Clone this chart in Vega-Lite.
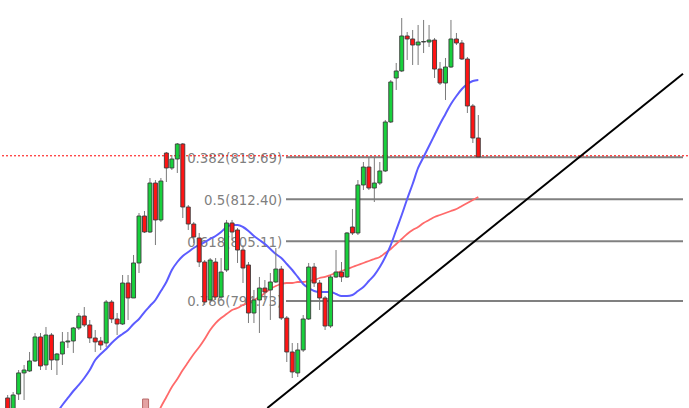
{
  "$schema": "https://vega.github.io/schema/vega-lite/v6.json",
  "width": 689,
  "height": 408,
  "padding": 0,
  "autosize": {"type": "fit", "contains": "padding"},
  "background": "white",
  "config": {"view": {"stroke": null}},
  "datasets": {
    "candles": [
      {"i":0,"o":777.88,"h":778.40,"l":775.45,"c":775.79},
      {"i":1,"o":775.79,"h":778.92,"l":775.45,"c":778.40},
      {"i":2,"o":778.57,"h":782.74,"l":777.53,"c":782.23},
      {"i":3,"o":782.23,"h":783.61,"l":777.53,"c":782.74},
      {"i":4,"o":782.57,"h":785.87,"l":782.40,"c":784.31},
      {"i":5,"o":784.31,"h":789.17,"l":784.13,"c":788.48},
      {"i":6,"o":788.48,"h":789.17,"l":782.74,"c":783.44},
      {"i":7,"o":783.61,"h":790.21,"l":782.74,"c":788.82},
      {"i":8,"o":788.82,"h":789.17,"l":782.74,"c":784.48},
      {"i":9,"o":784.48,"h":785.70,"l":781.87,"c":785.52},
      {"i":10,"o":785.52,"h":789.34,"l":783.61,"c":787.61},
      {"i":11,"o":787.61,"h":789.34,"l":786.56,"c":787.78},
      {"i":12,"o":787.78,"h":790.21,"l":785.70,"c":790.04},
      {"i":13,"o":790.04,"h":792.64,"l":789.69,"c":792.12},
      {"i":14,"o":792.12,"h":793.68,"l":790.21,"c":790.56},
      {"i":15,"o":790.56,"h":791.43,"l":787.43,"c":788.30},
      {"i":16,"o":788.30,"h":789.69,"l":785.87,"c":787.61},
      {"i":17,"o":787.78,"h":788.48,"l":786.22,"c":787.08},
      {"i":18,"o":787.43,"h":794.90,"l":786.74,"c":794.55},
      {"i":19,"o":794.55,"h":794.90,"l":790.90,"c":791.60},
      {"i":20,"o":791.60,"h":792.64,"l":788.82,"c":790.73},
      {"i":21,"o":790.73,"h":799.24,"l":790.56,"c":797.85},
      {"i":22,"o":797.85,"h":799.24,"l":791.43,"c":795.25},
      {"i":23,"o":795.25,"h":802.72,"l":795.25,"c":801.33},
      {"i":24,"o":801.33,"h":810.01,"l":799.59,"c":809.49},
      {"i":25,"o":809.49,"h":810.36,"l":806.54,"c":806.71},
      {"i":26,"o":806.71,"h":816.09,"l":806.54,"c":815.22},
      {"i":27,"o":815.22,"h":815.74,"l":804.45,"c":808.80},
      {"i":28,"o":808.80,"h":816.09,"l":808.45,"c":815.57},
      {"i":29,"o":820.43,"h":820.61,"l":815.40,"c":817.83},
      {"i":30,"o":817.83,"h":820.09,"l":817.48,"c":819.39},
      {"i":31,"o":819.39,"h":822.17,"l":816.96,"c":822.00},
      {"i":32,"o":822.00,"h":822.17,"l":809.14,"c":811.05},
      {"i":33,"o":811.05,"h":811.40,"l":807.06,"c":808.10},
      {"i":34,"o":808.10,"h":808.45,"l":804.80,"c":805.84},
      {"i":35,"o":805.67,"h":806.54,"l":800.63,"c":801.50},
      {"i":36,"o":801.50,"h":801.85,"l":794.03,"c":794.55},
      {"i":37,"o":794.90,"h":802.19,"l":794.38,"c":801.85},
      {"i":38,"o":801.50,"h":802.19,"l":794.90,"c":795.42},
      {"i":39,"o":795.42,"h":802.19,"l":794.90,"c":799.76},
      {"i":40,"o":800.11,"h":808.80,"l":799.76,"c":808.28},
      {"i":41,"o":808.28,"h":808.80,"l":805.32,"c":806.71},
      {"i":42,"o":807.06,"h":807.41,"l":801.33,"c":803.58},
      {"i":43,"o":803.58,"h":804.45,"l":797.85,"c":800.46},
      {"i":44,"o":800.98,"h":801.50,"l":790.90,"c":792.64},
      {"i":45,"o":792.64,"h":796.64,"l":790.90,"c":794.90},
      {"i":46,"o":794.90,"h":798.90,"l":789.17,"c":796.98},
      {"i":47,"o":796.98,"h":798.37,"l":794.90,"c":796.29},
      {"i":48,"o":796.64,"h":799.59,"l":791.43,"c":798.03},
      {"i":49,"o":798.03,"h":803.93,"l":797.85,"c":800.28},
      {"i":50,"o":800.28,"h":800.81,"l":791.43,"c":791.77},
      {"i":51,"o":791.77,"h":792.12,"l":784.13,"c":785.87},
      {"i":52,"o":785.87,"h":787.43,"l":781.35,"c":782.40},
      {"i":53,"o":782.23,"h":787.43,"l":781.52,"c":786.22},
      {"i":54,"o":786.22,"h":792.29,"l":785.87,"c":791.60},
      {"i":55,"o":791.60,"h":801.33,"l":791.43,"c":800.63},
      {"i":56,"o":800.63,"h":801.33,"l":797.16,"c":797.85},
      {"i":57,"o":797.85,"h":798.37,"l":793.16,"c":795.25},
      {"i":58,"o":795.25,"h":795.59,"l":789.69,"c":790.38},
      {"i":59,"o":790.38,"h":799.24,"l":790.04,"c":798.90},
      {"i":60,"o":798.90,"h":803.58,"l":798.72,"c":799.76},
      {"i":61,"o":799.76,"h":801.50,"l":798.03,"c":798.90},
      {"i":62,"o":798.90,"h":806.71,"l":798.72,"c":806.54},
      {"i":63,"o":807.58,"h":810.71,"l":806.19,"c":806.54},
      {"i":64,"o":806.54,"h":815.74,"l":806.19,"c":814.88},
      {"i":65,"o":814.88,"h":818.87,"l":814.01,"c":818.00},
      {"i":66,"o":818.00,"h":819.74,"l":814.01,"c":814.35},
      {"i":67,"o":814.35,"h":819.74,"l":811.92,"c":815.22},
      {"i":68,"o":815.22,"h":818.87,"l":814.88,"c":817.31},
      {"i":69,"o":817.31,"h":826.17,"l":817.13,"c":825.82},
      {"i":70,"o":825.82,"h":833.11,"l":825.64,"c":832.77},
      {"i":71,"o":833.46,"h":836.07,"l":831.38,"c":834.68},
      {"i":72,"o":834.68,"h":843.88,"l":834.50,"c":840.76},
      {"i":73,"o":840.76,"h":841.45,"l":836.59,"c":840.24},
      {"i":74,"o":840.24,"h":841.80,"l":835.72,"c":839.19},
      {"i":75,"o":839.19,"h":842.67,"l":835.72,"c":839.71},
      {"i":76,"o":839.71,"h":843.54,"l":837.80,"c":839.80},
      {"i":77,"o":839.71,"h":842.67,"l":838.85,"c":840.06},
      {"i":78,"o":840.06,"h":840.41,"l":833.46,"c":835.02},
      {"i":79,"o":835.02,"h":836.24,"l":832.25,"c":832.59},
      {"i":80,"o":832.59,"h":836.94,"l":829.64,"c":835.37},
      {"i":81,"o":835.37,"h":843.54,"l":835.20,"c":840.24},
      {"i":82,"o":840.24,"h":841.28,"l":839.19,"c":839.54},
      {"i":83,"o":839.54,"h":840.06,"l":836.59,"c":836.76},
      {"i":84,"o":836.76,"h":837.11,"l":827.38,"c":828.60},
      {"i":85,"o":828.60,"h":828.95,"l":822.17,"c":823.04},
      {"i":86,"o":823.04,"h":827.03,"l":819.74,"c":819.74}
    ],
    "fast": [
      {"i":9,"v":775.27},{"i":10,"v":776.66},{"i":11,"v":777.88},{"i":12,"v":779.09},{"i":13,"v":780.14},
      {"i":14,"v":781.35},{"i":15,"v":782.74},{"i":16,"v":784.48},{"i":17,"v":785.52},{"i":18,"v":786.39},
      {"i":19,"v":787.43},{"i":20,"v":788.30},{"i":21,"v":789.00},{"i":22,"v":789.69},{"i":23,"v":790.73},
      {"i":24,"v":791.60},{"i":25,"v":792.81},{"i":26,"v":793.86},{"i":27,"v":794.90},{"i":28,"v":796.46},
      {"i":29,"v":798.03},{"i":30,"v":800.11},{"i":31,"v":801.50},{"i":32,"v":802.54},{"i":33,"v":803.24},
      {"i":34,"v":803.93},{"i":35,"v":804.45},{"i":36,"v":804.97},{"i":37,"v":805.50},{"i":38,"v":806.02},
      {"i":39,"v":806.71},{"i":40,"v":807.58},{"i":41,"v":807.93},{"i":42,"v":807.93},{"i":43,"v":807.58},
      {"i":44,"v":806.89},{"i":45,"v":806.02},{"i":46,"v":805.32},{"i":47,"v":804.63},{"i":48,"v":803.76},
      {"i":49,"v":802.89},{"i":50,"v":802.19},{"i":51,"v":801.15},{"i":52,"v":800.11},{"i":53,"v":798.90},
      {"i":54,"v":797.68},{"i":55,"v":796.98},{"i":56,"v":796.46},{"i":57,"v":796.29},{"i":58,"v":796.29},
      {"i":59,"v":796.29},{"i":60,"v":795.94},{"i":61,"v":795.59},{"i":62,"v":795.59},{"i":63,"v":795.77},
      {"i":64,"v":796.46},{"i":65,"v":797.16},{"i":66,"v":798.20},{"i":67,"v":799.24},{"i":68,"v":800.63},
      {"i":69,"v":802.37},{"i":70,"v":804.45},{"i":71,"v":807.06},{"i":72,"v":809.66},{"i":73,"v":812.45},
      {"i":74,"v":815.05},{"i":75,"v":817.83},{"i":76,"v":819.74},{"i":77,"v":821.65},{"i":78,"v":823.56},
      {"i":79,"v":825.47},{"i":80,"v":827.21},{"i":81,"v":828.95},{"i":82,"v":830.34},{"i":83,"v":831.55},
      {"i":84,"v":832.42},{"i":85,"v":832.94},{"i":86,"v":833.11}
    ],
    "slow": [
      {"i":27,"v":774.40},{"i":28,"v":776.31},{"i":29,"v":778.05},{"i":30,"v":779.79},{"i":31,"v":781.18},
      {"i":32,"v":782.74},{"i":33,"v":784.13},{"i":34,"v":785.52},{"i":35,"v":786.74},{"i":36,"v":788.13},
      {"i":37,"v":789.69},{"i":38,"v":790.90},{"i":39,"v":791.77},{"i":40,"v":792.46},{"i":41,"v":793.16},
      {"i":42,"v":793.51},{"i":43,"v":794.03},{"i":44,"v":794.38},{"i":45,"v":794.90},{"i":46,"v":795.42},
      {"i":47,"v":796.12},{"i":48,"v":796.81},{"i":49,"v":797.33},{"i":50,"v":797.68},{"i":51,"v":797.85},
      {"i":52,"v":797.85},{"i":53,"v":798.03},{"i":54,"v":798.03},{"i":55,"v":798.20},{"i":56,"v":798.37},
      {"i":57,"v":798.72},{"i":58,"v":798.90},{"i":59,"v":799.24},{"i":60,"v":799.59},{"i":61,"v":799.94},
      {"i":62,"v":800.28},{"i":63,"v":800.63},{"i":64,"v":800.98},{"i":65,"v":801.33},{"i":66,"v":801.67},
      {"i":67,"v":802.02},{"i":68,"v":802.37},{"i":69,"v":803.06},{"i":70,"v":803.76},{"i":71,"v":804.63},
      {"i":72,"v":805.50},{"i":73,"v":806.36},{"i":74,"v":807.06},{"i":75,"v":807.58},{"i":76,"v":808.28},
      {"i":77,"v":808.80},{"i":78,"v":809.32},{"i":79,"v":809.66},{"i":80,"v":810.01},{"i":81,"v":810.36},
      {"i":82,"v":810.71},{"i":83,"v":811.23},{"i":84,"v":811.75},{"i":85,"v":812.27},{"i":86,"v":812.79}
    ],
    "fib": [
      {"label":"0.382(819.69)","p":819.69},
      {"label":"0.5(812.40)","p":812.40},
      {"label":"0.618(805.11)","p":805.11},
      {"label":"0.786(794.73)","p":794.73}
    ],
    "trend": [{"i":47.45,"p":776.14},{"i":123.4,"p":834.21}],
    "marker": [{"i":25.2,"lo":775.5,"hi":777.7}]
  },
  "layer": [
    {
      "data": {"name": "fib"},
      "mark": {"type": "text", "align": "right", "baseline": "middle", "dy": 1.5, "font": "DejaVu Sans", "fontSize": 13.3, "color": "#7f7f7f"},
      "encoding": {
        "x": {"datum": 50.15, "type": "quantitative", "scale": {"domain": [-0.305, 123.4], "nice": false, "zero": false}, "axis": null},
        "y": {"field": "p", "type": "quantitative", "scale": {"domain": [776.14, 847.01], "nice": false, "zero": false}, "axis": null},
        "text": {"field": "label"}
      }
    },
    {
      "data": {"name": "fib"},
      "mark": {"type": "rule", "color": "#808080", "strokeWidth": 2},
      "encoding": {
        "x": {"datum": 50.86, "type": "quantitative"},
        "x2": {"datum": 123.4},
        "y": {"field": "p", "type": "quantitative"}
      }
    },
    {
      "data": {"values": [{"p": 819.95}]},
      "mark": {"type": "rule", "color": "#ff0000", "strokeWidth": 1, "strokeDash": [2, 2]},
      "encoding": {"y": {"field": "p", "type": "quantitative"}}
    },
    {
      "data": {"name": "slow"},
      "mark": {"type": "line", "color": "#ff6a6a", "strokeWidth": 1.8, "interpolate": "monotone", "clip": true},
      "encoding": {
        "x": {"field": "i", "type": "quantitative"},
        "y": {"field": "v", "type": "quantitative"}
      }
    },
    {
      "data": {"name": "fast"},
      "mark": {"type": "line", "color": "#5c5cff", "strokeWidth": 2, "interpolate": "monotone", "clip": true},
      "encoding": {
        "x": {"field": "i", "type": "quantitative"},
        "y": {"field": "v", "type": "quantitative"}
      }
    },
    {
      "data": {"name": "marker"},
      "mark": {"type": "bar", "size": 6, "fill": "#e4a3a3", "stroke": "#b86a6a", "strokeWidth": 1, "clip": true},
      "encoding": {
        "x": {"field": "i", "type": "quantitative"},
        "y": {"field": "lo", "type": "quantitative"},
        "y2": {"field": "hi"}
      }
    },
    {
      "data": {"name": "candles"},
      "mark": {"type": "rule", "color": "#7a7a7a", "strokeWidth": 1, "clip": true},
      "encoding": {
        "x": {"field": "i", "type": "quantitative"},
        "y": {"field": "l", "type": "quantitative"},
        "y2": {"field": "h"}
      }
    },
    {
      "data": {"name": "candles"},
      "mark": {"type": "bar", "size": 4, "stroke": "#3c3c3c", "strokeWidth": 0.9, "clip": true},
      "encoding": {
        "x": {"field": "i", "type": "quantitative"},
        "y": {"field": "o", "type": "quantitative"},
        "y2": {"field": "c"},
        "fill": {"condition": {"test": "datum.c >= datum.o", "value": "#18d03c"}, "value": "#ff1414"}
      }
    },
    {
      "data": {"name": "trend"},
      "mark": {"type": "line", "color": "#000000", "strokeWidth": 2, "clip": true},
      "encoding": {
        "x": {"field": "i", "type": "quantitative"},
        "y": {"field": "p", "type": "quantitative"}
      }
    }
  ]
}
